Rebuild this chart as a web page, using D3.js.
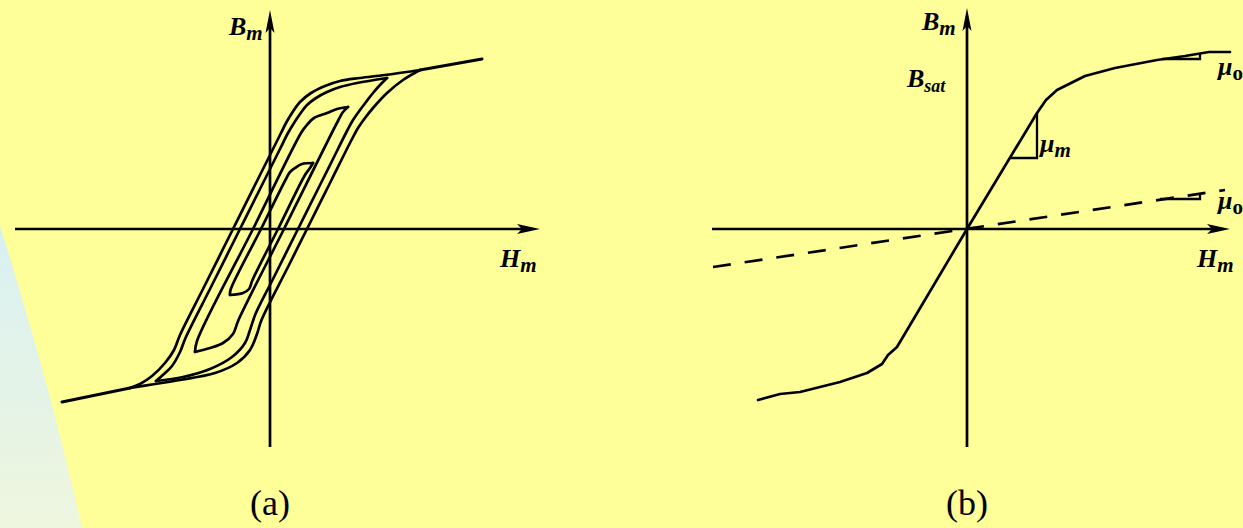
<!DOCTYPE html>
<html>
<head>
<meta charset="utf-8">
<script src="https://cdn.jsdelivr.net/npm/d3@7"></script>
<style>
  html, body { margin: 0; padding: 0; background: #FFFF99; }
  svg { display: block; }
  text { font-family: "Liberation Serif", "Times New Roman", serif; fill: #000; }
</style>
</head>
<body>
<svg id="chart" width="1243" height="528"></svg>
<script>
// ---------- Panel (a): minor hysteresis loops, [H, B] pairs ----------
// Each loop is split into its descending (upper) and ascending (lower) branch.
const loop1Upper = [[15.0,15.9],[11.5,15.4],[9.0,15.1],[7.0,14.8],[5.5,14.3],[4.1,13.6],[3.0,12.7],[2.2,11.6],[1.6,10.6],[1.1,9.6],[0.25,7.9],[-1.25,4.9],[-3.7,0],[-6.65,-5.9],[-9.0,-10.6],[-9.6,-12.1],[-10.5,-13.4],[-11.8,-14.7],[-13.0,-15.5],[-14.0,-15.9]];
const loop1Lower = [[-14.0,-15.9],[-11.5,-15.5],[-9.0,-15.1],[-5.5,-14.4],[-3.3,-13.4],[-2.0,-12.1],[-1.3,-10.5],[-0.85,-9.1],[1.9,-3.6],[3.7,0],[6.15,4.9],[8.15,8.9],[8.8,10.1],[9.5,11.1],[10.3,12.1],[11.7,13.6],[13.3,14.9],[15.0,15.9]];
const loop2Upper = [[11.7,15.1],[8.7,14.6],[7.0,14.2],[5.7,13.7],[4.6,13.1],[3.7,12.4],[3.0,11.5],[2.4,10.6],[1.8,9.6],[0.95,7.9],[-0.55,4.9],[-3.0,0],[-5.95,-5.9],[-8.45,-10.9],[-9.0,-12.3],[-9.8,-13.7],[-10.6,-14.5],[-11.4,-15.2]];
const loop2Lower = [[-11.4,-15.2],[-8.7,-14.8],[-6.0,-14.0],[-3.8,-12.8],[-2.5,-11.4],[-2.0,-10.1],[-1.45,-8.5],[0.25,-5.1],[2.8,0],[5.25,4.9],[6.25,6.9],[7.75,9.9],[8.3,10.9],[9.0,11.9],[9.6,12.7],[10.3,13.6],[11.0,14.4],[11.7,15.1]];
const loop3Upper = [[7.8,12.2],[6.7,12.0],[5.7,11.6],[4.4,11.1],[3.6,10.3],[3.1,9.6],[-1.7,0],[-7.3,-11.2],[-7.5,-12.3]];
const loop3Lower = [[-7.5,-12.3],[-6.0,-11.9],[-4.7,-11.4],[-3.7,-10.5],[-3.15,-9.1],[1.4,0],[6.95,11.1],[7.3,11.7],[7.8,12.2]];
const loop4Upper = [[4.3,6.6],[3.2,6.5],[2.5,6.1],[2.0,5.7],[1.7,5.2],[-0.9,0],[-3.95,-6.1],[-4.0,-6.6]];
const loop4Lower = [[-4.0,-6.6],[-2.7,-6.4],[-2.1,-6.0],[-1.75,-5.1],[0.8,0],[3.5,5.4],[4.0,6.1],[4.3,6.6]];
// saturation tails shared by the outer loops
const tailPositive = [[15.0,15.9],[21.2,17.0]];
const tailNegative = [[-14.0,-15.9],[-20.8,-17.3]];

// ---------- Panel (b): magnetisation curve, [H, B] pairs ----------
const bhCurve = [[-20.9,-17.1],[-18.7,-16.5],[-16.7,-16.3],[-12.7,-15.3],[-10.0,-14.4],[-8.5,-13.5],[-7.9,-12.6],[-7.0,-11.8],[0,0],[7.0,11.6],[7.9,12.9],[9.0,13.9],[11.8,15.3],[14.8,16.1],[19.0,16.9],[21.8,17.3],[24.2,17.7],[26.3,17.7]];
const vacuumLine = [[-25.4,-3.8],[25.8,3.9]];
const slopeMuM = [[4.3,7.1],[7.0,7.1],[7.0,11.6]];
const slopeMuOSat = [[19.5,17.0],[23.3,17.0],[23.3,17.5]];
const slopeMuOVac = [[19.3,3.0],[23.3,3.0],[23.3,3.5]];

// axis extents
const panelAHDomain = [-25.5, 27.0];
const panelABDomain = [-21.8, 21.9];
const panelBHDomain = [-25.5, 26.3];
const panelBBDomain = [-21.8, 22.1];

const svg = d3.select("#chart");
const W = 1243, H = 528;

// soft backdrop shape at the lower left
const grad = svg.append("defs").append("linearGradient")
  .attr("id", "blob").attr("x1", 0).attr("y1", 0).attr("x2", 0).attr("y2", 1);
grad.append("stop").attr("offset", "0%").attr("stop-color", "#D9F0F2");
grad.append("stop").attr("offset", "100%").attr("stop-color", "#EEF6DE");
const blob = d3.path();
blob.moveTo(0, 226);
blob.quadraticCurveTo(50, 385, 82, H);
blob.lineTo(0, H);
blob.closePath();
svg.append("path").attr("d", blob.toString()).attr("fill", "url(#blob)");

const xa = d3.scaleLinear().domain(panelAHDomain).range([15, 540]);
const ya = d3.scaleLinear().domain(panelABDomain).range([447, 10]);
const xb = d3.scaleLinear().domain(panelBHDomain).range([712, 1230]);
const yb = d3.scaleLinear().domain(panelBBDomain).range([447, 8]);

function drawAxes(g, x, y) {
  const x0 = x(0), y0 = y(0);
  const [hx0, hx1] = x.range();
  const [vy0, vy1] = y.range();
  g.append("line").attr("x1", hx0).attr("y1", y0).attr("x2", hx1 - 12).attr("y2", y0)
    .attr("stroke", "#000").attr("stroke-width", 2.7);
  g.append("line").attr("x1", x0).attr("y1", vy0).attr("x2", x0).attr("y2", vy1 + 12)
    .attr("stroke", "#000").attr("stroke-width", 2.7);
  // arrowheads
  g.append("path")
    .attr("d", `M${hx1},${y0} L${hx1 - 23},${y0 - 5} L${hx1 - 18},${y0} L${hx1 - 23},${y0 + 5} Z`)
    .attr("fill", "#000");
  g.append("path")
    .attr("d", `M${x0},${vy1} L${x0 - 4.5},${vy1 + 23} L${x0},${vy1 + 18} L${x0 + 4.5},${vy1 + 23} Z`)
    .attr("fill", "#000");
}

const gA = svg.append("g");
const gB = svg.append("g");
drawAxes(gA, xa, ya);
drawAxes(gB, xb, yb);

const smoothA = d3.line().x(d => xa(d[0])).y(d => ya(d[1])).curve(d3.curveCatmullRom.alpha(0.5));
const straightA = d3.line().x(d => xa(d[0])).y(d => ya(d[1]));
[loop1Upper, loop1Lower, loop2Upper, loop2Lower, loop3Upper, loop3Lower, loop4Upper, loop4Lower]
  .forEach(br => {
    gA.append("path").attr("d", smoothA(br)).attr("fill", "none")
      .attr("stroke", "#000").attr("stroke-width", 2.7)
      .attr("stroke-linejoin", "round").attr("stroke-linecap", "round");
  });
[tailPositive, tailNegative].forEach(t => {
  gA.append("path").attr("d", straightA(t)).attr("fill", "none")
    .attr("stroke", "#000").attr("stroke-width", 3).attr("stroke-linecap", "round");
});

const lineB = d3.line().x(d => xb(d[0])).y(d => yb(d[1]));
gB.append("path").attr("d", lineB(bhCurve)).attr("fill", "none")
  .attr("stroke", "#000").attr("stroke-width", 2.7)
  .attr("stroke-linejoin", "round").attr("stroke-linecap", "round");
gB.append("path").attr("d", lineB(vacuumLine)).attr("fill", "none")
  .attr("stroke", "#000").attr("stroke-width", 2.7).attr("stroke-dasharray", "18,14");
[slopeMuM, slopeMuOSat, slopeMuOVac].forEach(s => {
  gB.append("path").attr("d", lineB(s)).attr("fill", "none")
    .attr("stroke", "#000").attr("stroke-width", 2.3).attr("stroke-linejoin", "miter");
});

// labels
function sym(x, y, main, sub, opts = {}) {
  const t = svg.append("text").attr("x", x).attr("y", y)
    .attr("font-weight", "bold").attr("font-size", opts.size || 26);
  t.append("tspan").attr("font-style", "italic").text(main);
  t.append("tspan").attr("font-size", opts.subSize || 21).attr("dy", opts.dy || 5)
    .attr("font-style", opts.subItalic === false ? "normal" : "italic").text(sub);
}
sym(229, 35, "B", "m");
sym(500, 267, "H", "m");
sym(922, 30, "B", "m");
sym(907, 87, "B", "sat", { subSize: 18 });
sym(1197, 267, "H", "m");
sym(1040, 152, "μ", "m");
sym(1218, 75, "μ", "o", { subItalic: false });
sym(1218, 209, "μ", "o", { subItalic: false });

svg.append("text").attr("x", xa(0)).attr("y", 515).attr("text-anchor", "middle")
  .attr("font-size", 36).text("(a)");
svg.append("text").attr("x", xb(0)).attr("y", 515).attr("text-anchor", "middle")
  .attr("font-size", 36).text("(b)");
</script>
</body>
</html>
